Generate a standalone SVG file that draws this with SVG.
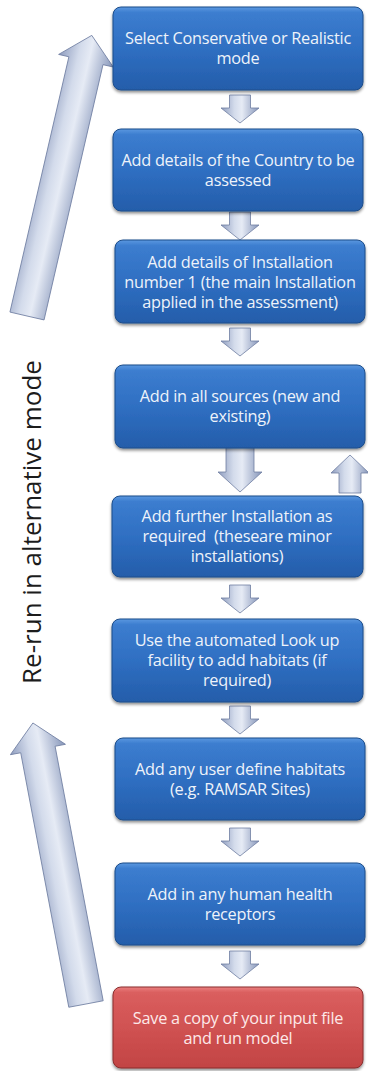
<svg xmlns="http://www.w3.org/2000/svg" width="368" height="1071" viewBox="0 0 368 1071">
  <style>
    .box { stroke-width: 1; filter: url(#shadow); }
    .blue { fill: url(#gBlue); stroke: #1d4d8a; }
    .red { fill: url(#gRed); stroke: #8a2e2e; }
    .lbl { font-family: "Open Sans", "Liberation Sans", sans-serif; font-size: 16.3px; fill: #eef3fa; text-anchor: middle; white-space: pre; letter-spacing: -0.25px; }
    .lblr { fill: #fde9e9; }
    .arr { fill: url(#gArr); stroke: #6f7ea1; stroke-width: 0.8; stroke-linejoin: miter; }
    .side { font-family: "Open Sans", "Liberation Sans", sans-serif; font-size: 26px; fill: #1c1c1c; text-anchor: middle; }
  </style>
  <defs>
    <linearGradient id="gBlue" x1="0" y1="0" x2="0" y2="1">
      <stop offset="0" stop-color="#5a98e0"/>
      <stop offset="0.07" stop-color="#3c7dcf"/>
      <stop offset="0.5" stop-color="#2f6fc2"/>
      <stop offset="1" stop-color="#245daa"/>
    </linearGradient>
    <linearGradient id="gRed" x1="0" y1="0" x2="0" y2="1">
      <stop offset="0" stop-color="#ea8080"/>
      <stop offset="0.07" stop-color="#da5e5e"/>
      <stop offset="0.5" stop-color="#d05252"/>
      <stop offset="1" stop-color="#c24444"/>
    </linearGradient>
    <linearGradient id="gArr" x1="0" y1="0" x2="1" y2="0">
      <stop offset="0" stop-color="#8f9dbf"/>
      <stop offset="0.35" stop-color="#d3dbeb"/>
      <stop offset="0.55" stop-color="#e6ebf5"/>
      <stop offset="1" stop-color="#8595b9"/>
    </linearGradient>
    <filter id="shadow" x="-5%" y="-10%" width="110%" height="125%">
      <feDropShadow dx="0" dy="2" stdDeviation="1.6" flood-color="#000" flood-opacity="0.45"/>
    </filter>
    <path id="dn" d="M-10.5,0 H10.5 V13 H19 L0,28 L-19,13 H-10.5 Z"/>
  </defs>

  <g id="side-label">
    <text class="side" transform="translate(41,522) rotate(-90)">Re-run in alternative mode</text>
  </g>

  <g id="connectors">
    <path class="arr" transform="translate(27,316) rotate(13)" d="M-17.5,0 V-262 H-28 L0,-288 L28,-262 H17.5 V0 Z"/>
    <path class="arr" transform="translate(86,1004) rotate(-10.7)" d="M-17.5,0 V-259 H-28 L0,-286 L28,-259 H17.5 V0 Z"/>
    <use href="#dn" class="arr" x="240" y="95"/>
    <use href="#dn" class="arr" x="240" y="212"/>
    <use href="#dn" class="arr" x="240" y="328"/>
    <path class="arr" transform="translate(240,447)" d="M-14,0 H14 V25 H22 L0,45 L-22,25 H-14 Z"/>
    <path class="arr" d="M350,455 L369,473 H361 V493 H339 V473 H331 Z"/>
    <use href="#dn" class="arr" x="240" y="585"/>
    <use href="#dn" class="arr" x="240" y="706"/>
    <use href="#dn" class="arr" x="240" y="828"/>
    <use href="#dn" class="arr" x="240" y="951"/>
  </g>

  <g id="n1">
    <rect class="box blue" x="113" y="7" width="250" height="83" rx="8"/>
    <text class="lbl" x="238" y="44">Select Conservative or Realistic</text>
    <text class="lbl" x="238" y="64">mode</text>
  </g>
  <g id="n2">
    <rect class="box blue" x="113" y="129" width="250" height="82" rx="8"/>
    <text class="lbl" x="238" y="166">Add details of the Country to be</text>
    <text class="lbl" x="238" y="186">assessed</text>
  </g>
  <g id="n3">
    <rect class="box blue" x="115" y="240" width="250" height="83" rx="8"/>
    <text class="lbl" x="240" y="268">Add details of Installation</text>
    <text class="lbl" x="240" y="288">number 1 (the main Installation</text>
    <text class="lbl" x="240" y="308">applied in the assessment)</text>
  </g>
  <g id="n4">
    <rect class="box blue" x="115" y="365" width="250" height="83" rx="8"/>
    <text class="lbl" x="240" y="402">Add in all sources (new and</text>
    <text class="lbl" x="240" y="422">existing)</text>
  </g>
  <g id="n5">
    <rect class="box blue" x="112" y="496" width="251" height="81" rx="8"/>
    <text class="lbl" x="237" y="522">Add further Installation as</text>
    <text class="lbl" x="237" y="542">required  (theseare minor</text>
    <text class="lbl" x="237" y="562">installations)</text>
  </g>
  <g id="n6">
    <rect class="box blue" x="112" y="619" width="251" height="83" rx="8"/>
    <text class="lbl" x="237" y="646">Use the automated Look up</text>
    <text class="lbl" x="237" y="666">facility to add habitats (if</text>
    <text class="lbl" x="237" y="686">required)</text>
  </g>
  <g id="n7">
    <rect class="box blue" x="115" y="738" width="250" height="82" rx="8"/>
    <text class="lbl" x="240" y="775">Add any user define habitats</text>
    <text class="lbl" x="240" y="795">(e.g. RAMSAR Sites)</text>
  </g>
  <g id="n8">
    <rect class="box blue" x="115" y="863" width="250" height="82" rx="8"/>
    <text class="lbl" x="240" y="900">Add in any human health</text>
    <text class="lbl" x="240" y="920">receptors</text>
  </g>
  <g id="n9">
    <rect class="box red" x="113" y="987" width="250" height="81" rx="8"/>
    <text class="lbl lblr" x="238" y="1024">Save a copy of your input file</text>
    <text class="lbl lblr" x="238" y="1044">and run model</text>
  </g>
</svg>
